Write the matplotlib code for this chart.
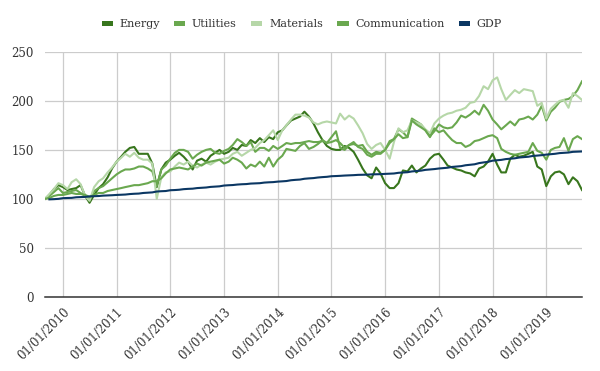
"""Sector indices vs GDP, monthly, rebased to 100 (Sep 2009 = 100)."""

import numpy as np
import pandas as pd
import matplotlib
matplotlib.use("Agg")
import matplotlib.pyplot as plt
import matplotlib.dates as mdates
from matplotlib.patches import Patch

# ── data (monthly, Sep 2009 .. Sep 2019) ─────────────────────────────────
START = "2009-09-01"
END = "2019-09-01"

energy = [
    100, 104, 110, 114,
    112, 109, 110, 111, 114, 103, 96, 104, 111, 115, 122, 131,
    138, 143, 148, 152, 153, 146, 146, 146, 136, 112, 130, 137,
    140, 144, 147, 143, 138, 130, 139, 141, 138, 144, 147, 150,
    146, 148, 152, 150, 155, 154, 160, 157, 162, 158, 163, 161,
    168, 170, 175, 180, 182, 184, 189, 184, 177, 168, 160, 154,
    151, 150, 150, 154, 152, 148, 140, 131, 124, 121, 132, 126,
    116, 111, 111, 116, 129, 128, 134, 127, 131, 134, 141, 145,
    146, 140, 134, 132, 130, 129, 127, 126, 123, 131, 133, 138,
    146, 135, 127, 127, 141, 145, 143, 144, 146, 148, 133, 130,
    113, 123, 127, 128, 125, 115, 122, 118, 109,
]

utilities = [
    100, 103, 107, 111,
    106, 107, 108, 109, 106, 103, 99, 108, 111, 113, 117, 121,
    125, 128, 130, 130, 131, 133, 133, 131, 128, 113, 130, 134,
    141, 147, 150, 150, 148, 141, 145, 148, 150, 151, 147, 146,
    149, 151, 155, 161, 158, 154, 158, 148, 152, 152, 149, 154,
    151, 154, 157, 156, 157, 157, 158, 159, 158, 158, 159, 157,
    158, 160, 157, 152, 155, 156, 154, 155, 148, 145, 148, 147,
    150, 159, 161, 171, 168, 163, 182, 179, 176, 170, 164, 169,
    176, 173, 172, 173, 178, 185, 183, 186, 190, 186, 196, 190,
    181, 176, 171, 175, 179, 175, 181, 182, 184, 181, 186, 195,
    180, 189, 193, 199, 201, 202, 205, 211, 220,
]

materials = [
    100, 105, 110, 116,
    114, 110, 117, 120, 115, 103, 98, 112, 118, 121, 127, 132,
    138, 142, 146, 143, 147, 142, 140, 140, 136, 100, 122, 127,
    128, 133, 137, 135, 138, 134, 132, 135, 137, 135, 138, 140,
    141, 142, 146, 148, 144, 147, 150, 152, 157, 160, 165, 170,
    160, 170, 175, 181, 186, 186, 185, 183, 178, 176, 178, 179,
    178, 177, 187, 181, 185, 182, 175, 167, 156, 151, 155, 157,
    150, 141, 158, 172, 168, 170, 180, 178, 176, 171, 167, 177,
    182, 185, 187, 188, 190, 191, 193, 198, 199, 205, 215, 212,
    221, 224, 212, 201, 206, 211, 208, 212, 211, 210, 195, 198,
    182, 192, 196, 200, 201, 193, 208, 205, 201,
]

communication = [
    100, 101, 103, 104,
    104, 105, 106, 105, 105, 104, 102, 104, 106, 106, 108, 109,
    110, 111, 112, 113, 114, 114, 115, 116, 118, 118, 121, 126,
    130, 131, 132, 131, 130, 133, 136, 134, 137, 138, 139, 140,
    136, 138, 142, 140, 137, 131, 135, 133, 138, 133, 142, 133,
    140, 144, 151, 150, 149, 154, 157, 151, 153, 156, 160, 157,
    163, 169, 152, 150, 155, 158, 153, 151, 145, 143, 146, 146,
    150, 157, 161, 166, 162, 163, 180, 176, 173, 170, 163, 172,
    168, 170, 165, 160, 157, 157, 153, 155, 159, 160, 162, 164,
    165, 162, 151, 148, 146, 145, 146, 147, 148, 157, 149, 147,
    140, 150, 152, 153, 162, 149, 161, 164, 161,
]

gdp = [
    np.nan, 99.5, 99.7, 100.0,
    100.7, 100.9, 101.0, 101.6, 101.8, 102.0, 102.5, 102.7, 102.9, 103.3, 103.5, 103.7,
    104.0, 104.2, 104.4, 104.9, 105.2, 105.4, 106.0, 106.3, 106.6, 107.5, 107.8, 108.0,
    108.8, 109.0, 109.3, 109.9, 110.2, 110.4, 111.0, 111.3, 111.6, 112.2, 112.5, 112.8,
    113.6, 113.9, 114.1, 114.6, 114.9, 115.1, 115.6, 115.8, 116.0, 116.6, 116.9, 117.1,
    117.6, 117.9, 118.2, 119.0, 119.4, 119.7, 120.5, 120.9, 121.2, 121.8, 122.2, 122.5,
    123.1, 123.3, 123.5, 123.8, 124.0, 124.2, 124.5, 124.6, 124.7, 125.0, 125.1, 125.2,
    125.5, 125.7, 125.9, 126.6, 126.9, 127.2, 128.0, 128.4, 128.8, 129.6, 130.0, 130.4,
    131.0, 131.4, 131.8, 132.6, 133.0, 133.4, 134.3, 134.8, 135.3, 136.5, 137.2, 137.8,
    139.0, 139.4, 139.8, 140.6, 141.0, 141.4, 142.2, 142.6, 143.0, 143.8, 144.2, 144.6,
    145.2, 145.6, 146.0, 146.7, 147.0, 147.3, 148.0, 148.2, 148.4,
]

TICK_YEARS = list(range(2010, 2020))

# Visual style per series
SERIES_STYLE = [
    ("Energy",        energy,        "#38761d"),
    ("Utilities",     utilities,     "#6aa84f"),
    ("Materials",     materials,     "#b6d7a8"),
    ("Communication", communication, "#6aa84f"),
    ("GDP",           gdp,           "#0b3763"),
]

TEXT_COLOR = "#333333"
GRID_COLOR = "#cccccc"
FONT = "DejaVu Serif"


def plot_sectors():
    plt.rcParams["font.family"] = [FONT, "DejaVu Sans"]
    dates = pd.date_range(START, END, freq="MS")

    fig = plt.figure(figsize=(6.0, 3.71), dpi=100)
    ax = fig.add_axes([0.075, 0.2, 0.895, 0.66])

    for name, values, color in SERIES_STYLE:
        ax.plot(dates, values, color=color, linewidth=1.5, label=name,
                solid_joinstyle="round", zorder=3)

    # ── axes formatting ───────────────────────────────────────────────────
    ax.set_xlim(pd.Timestamp(START), pd.Timestamp(END))
    ax.set_ylim(0, 250)
    ax.set_yticks(range(0, 251, 50))
    ax.set_xticks([pd.Timestamp(f"{y}-01-01") for y in TICK_YEARS])
    ax.xaxis.set_major_formatter(mdates.DateFormatter("%d/%m/%Y"))
    plt.setp(ax.get_xticklabels(), rotation=45, ha="right",
             rotation_mode="anchor")

    ax.tick_params(axis="both", length=0, labelsize=8.5, colors=TEXT_COLOR)
    ax.tick_params(axis="x", pad=6)
    ax.tick_params(axis="y", pad=8)
    ax.grid(True, color=GRID_COLOR, linewidth=0.9)
    ax.set_axisbelow(True)
    for side in ("top", "right", "left"):
        ax.spines[side].set_visible(False)
    ax.spines["bottom"].set_color("#333333")
    ax.spines["bottom"].set_linewidth(1.1)

    handles = [Patch(facecolor=c, edgecolor="none", label=n)
               for n, _, c in SERIES_STYLE]
    fig.legend(handles=handles, loc="center", bbox_to_anchor=(0.503, 0.935),
               ncol=5, frameon=False, fontsize=8, handlelength=1.0,
               handleheight=0.35, handletextpad=0.6, columnspacing=1.3,
               labelcolor=TEXT_COLOR)

    fig.savefig("out.png", dpi=100)
    plt.close(fig)


if __name__ == "__main__":
    plot_sectors()
